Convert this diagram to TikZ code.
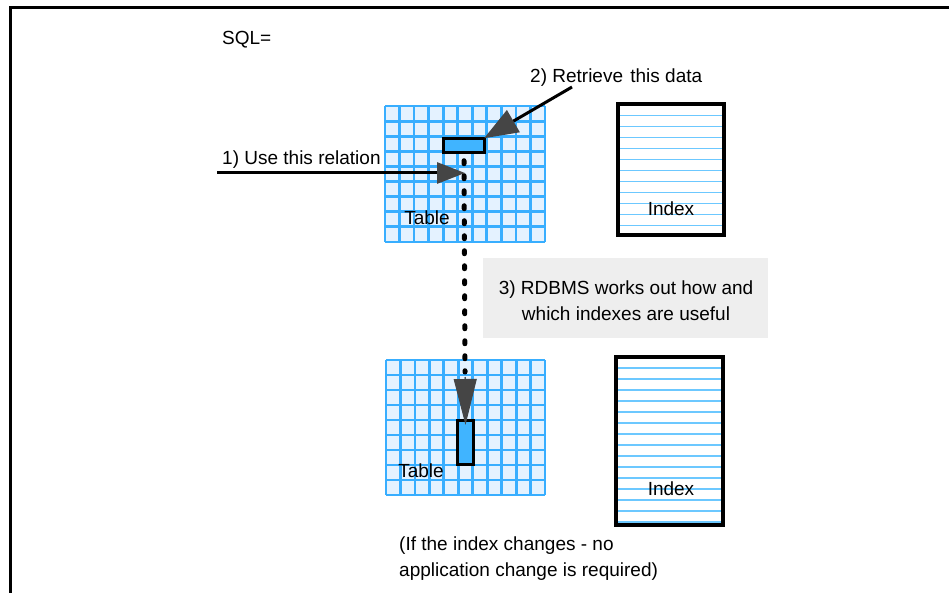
\documentclass[tikz,border=0pt]{standalone}
\usepackage{fontspec}
\setmainfont{Liberation Sans}
\usetikzlibrary{arrows.meta}
\definecolor{gridblue}{HTML}{38AEFF}
\definecolor{cellblue}{HTML}{E4F2FF}
\definecolor{selblue}{HTML}{40B4FF}
\definecolor{lineblue}{HTML}{6CC8FF}
\definecolor{headgray}{HTML}{454545}
\definecolor{boxgray}{HTML}{EEEEEE}
\tikzset{
  lbl/.style={font=\fontsize{19}{26}\selectfont, inner sep=0pt, text=black},
  selbox/.style={draw=black, line width=2.5pt, fill=selblue, inner sep=0pt},
  frameline/.style={line width=3pt, black},
  conn/.style={line width=3pt, black},
  dotline/.style={line width=5pt, black, line cap=round, dash pattern=on 3pt off 12pt},
  idxframe/.style={draw=black, line width=3.5pt},
  idxline/.style={lineblue, line width=1.8pt},
}
\newcommand{\tablegrid}[4]{% x0 y0 x1 y1
  \fill[cellblue] (#1,#2) rectangle (#3,#4);
  \foreach \i in {0,...,11}{
    \draw[gridblue, line width=2.8pt] ({#1+\i*(#3-#1)/11},#2) -- ({#1+\i*(#3-#1)/11},#4);
  }
  \foreach \j in {0,...,9}{
    \draw[gridblue, line width=2.8pt] (#1,{#2+\j*(#4-#2)/9}) -- (#3,{#2+\j*(#4-#2)/9});
  }
}
\begin{document}
\begin{tikzpicture}[x=1pt,y=-1pt]
\useasboundingbox (0,0) rectangle (949,593);
% frame (top and left sides)
\draw[frameline] (949,8) -- (10,8) -- (10,593);

% SQL label
\node[lbl, anchor=west] (sql) at (222,40) {SQL=};

% top table
\tablegrid{385}{106}{545}{242}
\node[lbl] (table1) at (427,218) {Table};
% bottom table
\tablegrid{386}{360}{545}{495}
\node[lbl] (table2) at (421,471) {Table};

% index boxes
\foreach \k in {0,...,10}{
  \draw[idxline] (618,{115.5+\k*11}) -- (724,{115.5+\k*11});
}
\node[idxframe, minimum width=106pt, minimum height=131pt, inner sep=0pt] (index1) at (671,169.5) {};
\node[lbl] (index1lbl) at (671,209) {Index};

\foreach \k in {0,...,14}{
  \draw[idxline] (616,{368+\k*11}) -- (723,{368+\k*11});
}
\node[idxframe, minimum width=107pt, minimum height=168pt, inner sep=0pt] (index2) at (669.5,441) {};
\node[lbl] (index2lbl) at (671,489) {Index};

% selection rectangles
\node[selbox, minimum width=41pt, minimum height=14pt] (topsel) at (464,145.5) {};
\node[selbox, minimum width=16pt, minimum height=44pt] (botsel) at (465.5,442.5) {};

% RDBMS box
\node[fill=boxgray, minimum width=285pt, minimum height=80pt, inner sep=0pt] (rdbmsbox) at (625.5,298) {};
\node[lbl, align=center] (rdbms) at (626,301) {3) RDBMS works out how and\\which indexes are useful};

% labels
\node[lbl, anchor=west] (use) at (222,160) {1) Use this relation};
\node[lbl, anchor=west] (retr) at (530,78) {2) Retrieve\hspace{2pt} this data};
\node[lbl, anchor=west, align=left] (note) at (399,559) {(If the index changes - no\\application change is required)};

% connectors
\coordinate (relstart) at (217,173);
\coordinate (relpt) at (465,173);
\coordinate (retrstart) at (572,87);
\coordinate (botpt) at (465.5,425);

\draw[conn, -{Triangle[length=28pt,width=21pt,color=headgray]}] (relstart) -- (relpt);
\draw[conn, shorten >=-2pt, -{Triangle[length=34pt,width=25pt,color=headgray]}] (retrstart) -- (topsel.north east);
\draw[dotline] (topsel.south) ++(0,7) -- (465,372);
\draw[line width=1pt, -{Triangle[length=46pt,width=23pt,color=headgray]}] (465.2,377) -- (botpt);
\end{tikzpicture}
\end{document}
